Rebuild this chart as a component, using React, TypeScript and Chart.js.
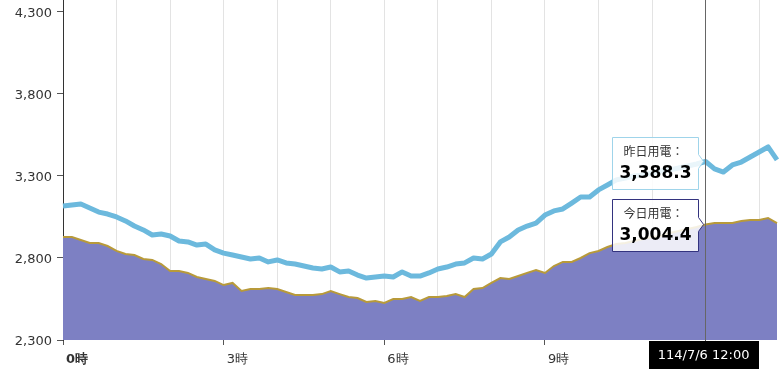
import React, { useEffect, useRef } from 'react';
import { Chart, registerables } from 'chart.js';

Chart.register(...registerables);

// 10-minute time slots from 00:00 to 13:20
const TIMES: string[] = Array.from({ length: 81 }, (_, i) =>
  `${String(Math.floor(i / 6)).padStart(2, '0')}:${String((i % 6) * 10).padStart(2, '0')}`
);

const YESTERDAY: number[] = [
  3117, 3123, 3129, 3105, 3080, 3068, 3050, 3026, 2995, 2971,
  2940, 2946, 2934, 2904, 2898, 2879, 2885, 2849, 2830, 2818,
  2806, 2794, 2800, 2776, 2788, 2770, 2763, 2751, 2739, 2733,
  2745, 2715, 2721, 2696, 2678, 2684, 2690, 2684, 2715, 2690,
  2690, 2709, 2733, 2745, 2763, 2770, 2800, 2794, 2824, 2898,
  2928, 2971, 2995, 3013, 3062, 3087, 3099, 3135, 3172, 3172,
  3215, 3245, 3276, 3288, 3300, 3306, 3318, 3331, 3337, 3349,
  3361, 3373, 3388.3, 3343, 3324, 3367, 3385, 3416, 3446, 3477,
  3398,
];

const TODAY: number[] = [
  2928, 2928, 2910, 2891, 2891, 2873, 2843, 2824, 2818, 2794,
  2788, 2763, 2721, 2721, 2709, 2684, 2672, 2660, 2635, 2648,
  2599, 2611, 2611, 2617, 2611, 2593, 2574, 2574, 2574, 2580,
  2599, 2580, 2562, 2556, 2532, 2538, 2526, 2550, 2550, 2562,
  2538, 2562, 2562, 2568, 2580, 2562, 2611, 2617, 2648, 2678,
  2672, 2690, 2709, 2727, 2709, 2751, 2776, 2776, 2800, 2830,
  2843, 2867, 2885, 2891, 2904, 2916, 2928, 2934, 2952, 2965,
  2977, 2989, 3004.4, 3013, 3013, 3013, 3026, 3032, 3032, 3044,
  3013,
];

const Y_TICKS: number[] = [2300, 2800, 3300, 3800, 4300];
const Y_MIN = 2300;
const Y_MAX = 4373;
const CURSOR_TIME = '12:00';
const DATE_LABEL = '114/7/6';
const YESTERDAY_LABEL = '昨日用電：';
const TODAY_LABEL = '今日用電：';
const HOUR_SUFFIX = '時';

const FONT = '"DejaVu Sans", Verdana, sans-serif';
const CJK = '"Noto Sans CJK TC", "Noto Sans CJK SC", sans-serif';

const isHour = (i: number) => TIMES[i] !== undefined && TIMES[i].endsWith(':00');
const isMajor = (i: number) => isHour(i) && parseInt(TIMES[i].slice(0, 2), 10) % 3 === 0;

function drawTip(
  ctx: CanvasRenderingContext2D,
  px: number,
  py: number,
  label: string,
  value: number,
  border: string
) {
  const w = 86;
  const h = 52;
  const right = px - 8;
  const left = right - w;
  const top = Math.round(py - 25) + 0.5;
  const bottom = top + h;
  const l = Math.round(left) + 0.5;
  const r = Math.round(right) + 0.5;
  ctx.beginPath();
  ctx.moveTo(l, top);
  ctx.lineTo(r, top);
  ctx.lineTo(r, py - 7);
  ctx.lineTo(px - 2, py);
  ctx.lineTo(r, py + 7);
  ctx.lineTo(r, bottom);
  ctx.lineTo(l, bottom);
  ctx.closePath();
  ctx.fillStyle = 'rgba(255,255,255,0.85)';
  ctx.fill();
  ctx.strokeStyle = border;
  ctx.lineWidth = 1;
  ctx.stroke();

  const cx = l + w / 2;
  ctx.fillStyle = '#333';
  ctx.textAlign = 'center';
  ctx.textBaseline = 'middle';
  ctx.font = `12px ${CJK}`;
  ctx.fillText(label, cx - 2, top + 14);
  ctx.fillStyle = '#000';
  ctx.font = `bold 17px ${FONT}`;
  ctx.fillText(
    value.toLocaleString('en-US', { minimumFractionDigits: 1, maximumFractionDigits: 1 }),
    cx,
    top + 36
  );
}

const overlayPlugin = {
  id: 'overlay',
  afterDraw(chart: any) {
    const ctx: CanvasRenderingContext2D = chart.ctx;
    const idx = TIMES.indexOf(CURSOR_TIME);
    const xs = chart.scales.x;
    const ys = chart.scales.y;
    const x = xs.getPixelForValue(idx);
    const { top, bottom } = chart.chartArea;
    ctx.save();
    // crosshair
    ctx.strokeStyle = '#666';
    ctx.lineWidth = 1;
    ctx.beginPath();
    ctx.moveTo(Math.round(x) - 0.5, top);
    ctx.lineTo(Math.round(x) - 0.5, bottom);
    ctx.stroke();

    // time label
    const text = `${DATE_LABEL} ${CURSOR_TIME}`;
    ctx.font = `13px ${FONT}`;
    const w = ctx.measureText(text).width + 18;
    const h = 28;
    ctx.fillStyle = '#000';
    ctx.fillRect(Math.round(x - w / 2 - 2), bottom + 1, Math.round(w), h);
    ctx.fillStyle = '#fff';
    ctx.textAlign = 'center';
    ctx.textBaseline = 'middle';
    ctx.fillText(text, x - 2, bottom + 2 + h / 2);

    // tooltips
    drawTip(ctx, x, ys.getPixelForValue(YESTERDAY[idx]), YESTERDAY_LABEL, YESTERDAY[idx], '#9fd4ea');
    drawTip(ctx, x, ys.getPixelForValue(TODAY[idx]), TODAY_LABEL, TODAY[idx], '#33337f');
    ctx.restore();
  },
};

export default function App() {
  const ref = useRef<HTMLCanvasElement | null>(null);

  useEffect(() => {
    if (!ref.current) return;
    const chart = new Chart(ref.current, {
      type: 'line',
      data: {
        labels: TIMES,
        datasets: [
          {
            label: '昨日用電',
            data: YESTERDAY,
            borderColor: '#6cb9dd',
            borderWidth: 5,
            pointRadius: 0,
            fill: false,
            tension: 0,
            order: 0,
            borderJoinStyle: 'round',
          },
          {
            label: '今日用電',
            data: TODAY,
            borderColor: '#b89a3a',
            borderWidth: 2,
            backgroundColor: '#7d80c3',
            fill: 'start',
            pointRadius: 0,
            tension: 0,
            order: 1,
          },
        ],
      },
      options: {
        animation: false,
        responsive: true,
        maintainAspectRatio: false,
        events: [],
        layout: { padding: { top: 0, right: 3, bottom: 0, left: 0 } },
        plugins: { legend: { display: false }, tooltip: { enabled: false } },
        scales: {
          x: {
            type: 'category',
            offset: false,
            border: { display: false },
            grid: {
              offset: false,
              drawOnChartArea: true,
              color: (c: any) => (isHour(c.index) ? '#e3e3e3' : 'rgba(0,0,0,0)'),
              tickColor: (c: any) => (isMajor(c.index) ? '#555' : 'rgba(0,0,0,0)'),
              tickLength: 5,
            },
            ticks: {
              autoSkip: false,
              maxRotation: 0,
              minRotation: 0,
              align: 'start',
              labelOffset: 3,
              padding: 7,
              color: '#333',
              font: (c: any) => ({ family: FONT, size: 13, weight: c.index === 0 ? 'bold' : 'normal' }),
              callback: (_v: any, i: number) =>
                isMajor(i) ? `${parseInt(TIMES[i].slice(0, 2), 10)}${HOUR_SUFFIX}` : '',
            },
            afterFit: (s: any) => {
              s.height = 45;
              s.paddingLeft = 0;
              s.paddingRight = 0;
            },
          },
          y: {
            min: Y_MIN,
            max: Y_MAX,
            afterBuildTicks: (s: any) => {
              s.ticks = Y_TICKS.map((v) => ({ value: v }));
            },
            border: { display: true, color: '#333', width: 1 },
            grid: { drawOnChartArea: false, tickLength: 6, tickColor: '#555' },
            ticks: {
              color: '#333',
              padding: 5,
              labelOffset: 2,
              font: { family: FONT, size: 13 },
              callback: (v: any) => Number(v).toLocaleString('en-US'),
            },
            afterFit: (s: any) => {
              s.width = 63;
              s.paddingTop = 0;
              s.paddingBottom = 0;
            },
          },
        },
      } as any,
      plugins: [overlayPlugin],
    });
    return () => chart.destroy();
  }, []);

  return (
    <div style={{ position: 'fixed', left: 0, top: 0, width: 780, height: 385, background: '#fff' }}>
      <canvas ref={ref} />
    </div>
  );
}
